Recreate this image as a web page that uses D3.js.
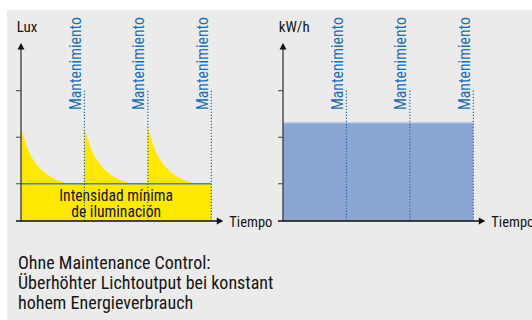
<!DOCTYPE html>
<html>
<head>
<meta charset="utf-8">
<script src="https://cdn.jsdelivr.net/npm/d3@7"></script>
<style>
  html, body { margin: 0; padding: 0; background: #ffffff; }
  svg { display: block; }
  text { font-family: "Roboto Condensed", "Liberation Sans Narrow", Roboto, sans-serif; }
</style>
</head>
<body>
<svg id="chart" width="532" height="320"></svg>
<script>
// Maintenance cycles (time in cycle units) and tick values
const maintenanceTimes = [1, 2, 3];
const cycleStarts = [0, 1, 2];
const yTicks = [80, 180, 280];

// Light output inside one maintenance cycle (time since maintenance, lux)
const decayTimes = [0, 0.05, 0.09, 0.14, 0.194, 0.27, 0.352, 0.43, 0.51, 0.6, 0.72, 0.825, 1];
const decayLux   = [200, 178, 160, 144, 131, 117, 106, 98, 92, 86, 81.5, 80, 80];

// Minimum required illumination and constant energy consumption
const minLux = 80;
const energyLevel = 212;

// Labels
const xAxisLabel = "Tiempo";
const leftUnit = "Lux";
const rightUnit = "kW/h";
const maintenanceLabel = "Mantenimiento";
const minLabelLines = ["Intensidad mínima", "de iluminación"];
const captionLines = [
  "Ohne Maintenance Control:",
  "Überhöhter Lichtoutput bei konstant",
  "hohem Energieverbrauch"
];

const svg = d3.select("#chart");

// grey panel
svg.append("rect").attr("x", 7).attr("y", 10).attr("width", 525).attr("height", 310).attr("fill", "#ebebeb");

const y = d3.scaleLinear().domain([0, 280]).range([221, 90.7]);
const yTop = 43;

const blue = "#1c6db4";
const ink = "#161616";

function drawFrame(x0, x, unit) {
  const g = svg.append("g");
  // y ticks
  g.selectAll(".tick").data(yTicks).join("line")
    .attr("x1", x0 - 5).attr("x2", x0).attr("y1", d => y(d)).attr("y2", d => y(d))
    .attr("stroke", "#444").attr("stroke-width", 1);
  // y axis with arrow
  g.append("line").attr("x1", x0).attr("x2", x0).attr("y1", y(0)).attr("y2", yTop + 5)
    .attr("stroke", "#444").attr("stroke-width", 1.4);
  g.append("path").attr("d", `M${x0 - 3.5},${yTop + 6.5} L${x0},${yTop} L${x0 + 3.5},${yTop + 6.5} Z`).attr("fill", "#111");
  // x axis with arrow
  const xEnd = x(3) + 12;
  g.append("line").attr("x1", x0 - 5).attr("x2", xEnd - 5).attr("y1", y(0)).attr("y2", y(0))
    .attr("stroke", "#111").attr("stroke-width", 1.4);
  g.append("path").attr("d", `M${xEnd - 6.5},${y(0) - 3.5} L${xEnd},${y(0)} L${xEnd - 6.5},${y(0) + 3.5} Z`).attr("fill", "#111");
  g.append("text").attr("x", xEnd + 6).attr("y", y(0) + 5.7).attr("font-size", 14.5).attr("fill", ink).text(xAxisLabel);
  // unit label
  g.append("text").attr("x", x0 - 4.3).attr("y", 32.3).attr("font-size", 15).attr("fill", ink).text(unit);
}

function drawMaintenance(x) {
  const g = svg.append("g");
  g.selectAll("line").data(maintenanceTimes).join("line")
    .attr("x1", d => x(d)).attr("x2", d => x(d))
    .attr("y1", y(280)).attr("y2", y(0))
    .attr("stroke", blue).attr("stroke-width", 1.2).attr("stroke-dasharray", "1.3,1.7");
  g.selectAll("text").data(maintenanceTimes).join("text")
    .attr("transform", d => `translate(${x(d) - 3.4},${110}) rotate(-90)`)
    .attr("font-size", 15.7).attr("fill", blue).text(maintenanceLabel);
}

// Left chart: illuminance
const xL = d3.scaleLinear().domain([0, 3]).range([21, 211.3]);
const area = d3.area().x(d => d[0]).y0(y(0)).y1(d => d[1]);
cycleStarts.forEach(c => {
  const pts = decayTimes.map((t, i) => [xL(c + t), y(decayLux[i])]);
  svg.append("path").attr("d", area(pts)).attr("fill", "#ffe800");
});
svg.append("rect").attr("x", xL(0)).attr("y", y(minLux)).attr("width", xL(3) - xL(0)).attr("height", y(0) - y(minLux)).attr("fill", "#ffe800");
svg.append("line").attr("x1", xL(0)).attr("x2", xL(3)).attr("y1", y(minLux)).attr("y2", y(minLux))
  .attr("stroke", "#3d86b2").attr("stroke-width", 1.5);
svg.append("g").selectAll("text").data(minLabelLines).join("text")
  .attr("x", (xL(0) + xL(3)) / 2).attr("y", (d, i) => 201 + i * 15.5)
  .attr("text-anchor", "middle").attr("font-size", 15.6).attr("fill", ink).text(d => d);
drawMaintenance(xL);
drawFrame(xL(0), xL, leftUnit);

// Right chart: energy consumption
const xR = d3.scaleLinear().domain([0, 3]).range([283, 473.3]);
svg.append("rect").attr("x", xR(0)).attr("y", y(energyLevel)).attr("width", xR(3) - xR(0)).attr("height", y(0) - y(energyLevel)).attr("fill", "#8ba6d3");
svg.append("line").attr("x1", xR(0)).attr("x2", xR(3)).attr("y1", y(energyLevel) + 0.5).attr("y2", y(energyLevel) + 0.5)
  .attr("stroke", "#c9d5ea").attr("stroke-width", 1);
drawMaintenance(xR);
drawFrame(xR(0), xR, rightUnit);

// Caption
svg.append("g").selectAll("text").data(captionLines).join("text")
  .attr("x", 18).attr("y", (d, i) => 269 + i * 20)
  .attr("font-size", 18).attr("fill", ink).text(d => d);
</script>
</body>
</html>
